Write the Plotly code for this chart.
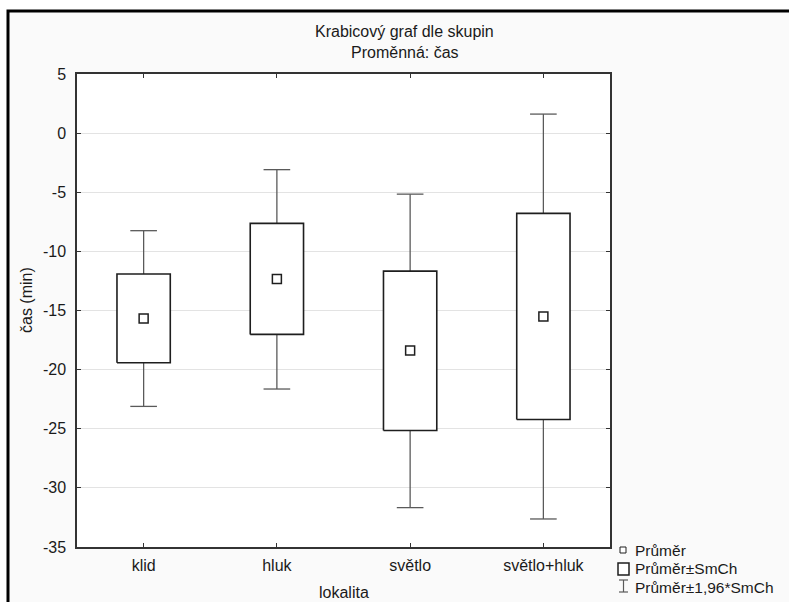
import plotly.graph_objects as go

# ---- data ----
categories = ["klid", "hluk", "světlo", "světlo+hluk"]
means = [-15.67, -12.34, -18.38, -15.51]
box_high = [-11.91, -7.63, -11.67, -6.79]      # Průměr + SmCh
box_low = [-19.42, -17.02, -25.15, -24.22]     # Průměr - SmCh
whisk_high = [-8.25, -3.09, -5.16, 1.61]       # Průměr + 1,96*SmCh
whisk_low = [-23.11, -21.64, -31.67, -32.63]   # Průměr - 1,96*SmCh
y_tickvals = [5, 0, -5, -10, -15, -20, -25, -30, -35]
y_ticktext = ["5", "0", "-5", "-10", "-15", "-20", "-25", "-30", "-35"]
legend_labels = ["Průměr", "Průměr±SmCh", "Průměr±1,96*SmCh"]

W, H = 789, 602
ML, MR, MT, MB = 77, 179, 74, 55
PW, PH = W - ML - MR, H - MT - MB
BOX_HALF = 0.2   # half box width in category units
CAP_HALF = 0.1   # half whisker-cap width


def px(xp):
    return (xp - ML) / PW


def py(yp):
    return (H - MB - yp) / PH


FONT = "Liberation Sans, Arial, sans-serif"
FS = 16
TXT = "#1a1a1a"

pos = list(range(len(categories)))

# whisker path (from box edges outward, with caps)
wx, wy = [], []
for i, bl, bh, wl, wh in zip(pos, box_low, box_high, whisk_low, whisk_high):
    wx += [i, i, None, i - CAP_HALF, i + CAP_HALF, None,
           i, i, None, i - CAP_HALF, i + CAP_HALF, None]
    wy += [bh, wh, None, wh, wh, None,
           bl, wl, None, wl, wl, None]

# box outlines
bx, by = [], []
for i, bl, bh in zip(pos, box_low, box_high):
    bx += [i - BOX_HALF, i + BOX_HALF, i + BOX_HALF, i - BOX_HALF, i - BOX_HALF, None]
    by += [bl, bl, bh, bh, bl, None]

fig = go.Figure()
fig.add_trace(go.Scatter(
    x=wx, y=wy, mode="lines", line=dict(color="#5a5a5a", width=1.3),
    showlegend=False, hoverinfo="skip"))
fig.add_trace(go.Scatter(
    x=bx, y=by, mode="lines", fill="toself", fillcolor="white",
    line=dict(color="#1e1e1e", width=1.6),
    showlegend=False, hoverinfo="skip"))
fig.add_trace(go.Scatter(
    x=pos, y=means, mode="markers",
    marker=dict(symbol="square-open", size=9, color="#1e1e1e", line=dict(width=1.5)),
    showlegend=False, hoverinfo="skip"))

shapes = [
    # outer frame
    dict(type="rect", xref="paper", yref="paper", layer="below",
         x0=px(8), x1=px(1000), y0=py(800), y1=py(11),
         fillcolor="#fafafa", line=dict(color="black", width=3)),
    # plot area background
    dict(type="rect", xref="paper", yref="paper", layer="below",
         x0=0, x1=1, y0=0, y1=1, fillcolor="white", line=dict(width=0)),
    # legend glyphs
    dict(type="rect", xref="paper", yref="paper",
         x0=px(620), x1=px(626), y0=py(553), y1=py(547),
         fillcolor="white", line=dict(color="#1e1e1e", width=1)),
    dict(type="rect", xref="paper", yref="paper",
         x0=px(618), x1=px(629), y0=py(575), y1=py(563),
         fillcolor="white", line=dict(color="#1e1e1e", width=1.5)),
    dict(type="line", xref="paper", yref="paper",
         x0=px(623.5), x1=px(623.5), y0=py(592), y1=py(580),
         line=dict(color="#5a5a5a", width=1.2)),
    dict(type="line", xref="paper", yref="paper",
         x0=px(619), x1=px(628), y0=py(580), y1=py(580),
         line=dict(color="#5a5a5a", width=1.2)),
    dict(type="line", xref="paper", yref="paper",
         x0=px(619), x1=px(628), y0=py(592), y1=py(592),
         line=dict(color="#5a5a5a", width=1.2)),
]

annotations = [
    dict(text="Krabicový graf dle skupin", xref="paper", yref="paper",
         x=px(W / 2 + 10), y=py(31.5), xanchor="center", yanchor="middle", showarrow=False,
         font=dict(family=FONT, size=FS, color=TXT)),
    dict(text="Proměnná: čas", xref="paper", yref="paper",
         x=px(W / 2 + 10), y=py(53), xanchor="center", yanchor="middle", showarrow=False,
         font=dict(family=FONT, size=FS, color=TXT)),
    dict(text="čas (min)", xref="paper", yref="paper", textangle=-90,
         x=px(26), y=py(300), xanchor="center", yanchor="middle", showarrow=False,
         font=dict(family=FONT, size=FS, color=TXT)),
    dict(text="lokalita", xref="paper", yref="paper",
         x=0.5, y=py(592), xanchor="center", yanchor="middle", showarrow=False,
         font=dict(family=FONT, size=FS, color=TXT)),
]
for label, yc in zip(legend_labels, [550, 568.5, 587]):
    annotations.append(dict(text=label, xref="paper", yref="paper",
                            x=px(633), y=py(yc), xanchor="left", yanchor="middle",
                            showarrow=False, font=dict(family=FONT, size=15.5, color=TXT)))

fig.update_layout(
    width=W, height=H,
    margin=dict(l=ML, r=MR, t=MT, b=MB, pad=0),
    paper_bgcolor="white", plot_bgcolor="white",
    font=dict(family=FONT, size=FS, color=TXT),
    shapes=shapes, annotations=annotations,
    xaxis=dict(
        range=[-0.5, 3.5], tickvals=pos, ticktext=categories,
        showgrid=False, zeroline=False,
        showline=True, linecolor="#333333", linewidth=1.5, mirror="ticks",
        ticks="inside", ticklen=4, tickcolor="#333333", tickwidth=1,
        ticklabelstandoff=3, tickfont=dict(family=FONT, size=FS, color=TXT),
    ),
    yaxis=dict(
        range=[-35, 5], tickvals=y_tickvals, ticktext=y_ticktext,
        showgrid=True, gridcolor="#e3e3e3", gridwidth=1, zeroline=False,
        showline=True, linecolor="#333333", linewidth=1.5, mirror="ticks",
        ticks="inside", ticklen=4, tickcolor="#333333", tickwidth=1,
        ticklabelstandoff=6, tickfont=dict(family=FONT, size=FS, color=TXT),
    ),
)

fig.write_html("out.html", config={"displayModeBar": False},
               post_script="document.body.style.margin='0';")
